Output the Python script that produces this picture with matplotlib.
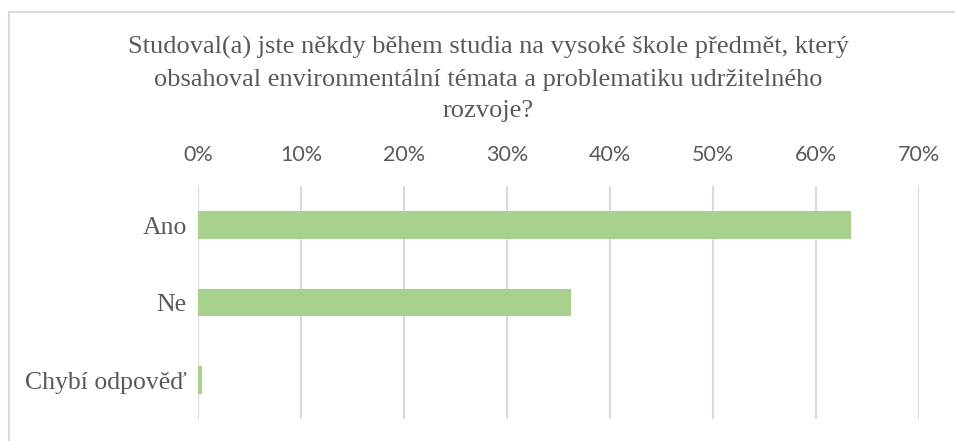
import matplotlib.pyplot as plt
from matplotlib.patches import Rectangle
from matplotlib.ticker import FuncFormatter

categories = ["Ano", "Ne", "Chybí odpověď"]
values = [63.4, 36.2, 0.4]
ticks = [0, 10, 20, 30, 40, 50, 60, 70]
title = ("Studoval(a) jste někdy během studia na vysoké škole předmět, který\n"
         "obsahoval environmentální témata a problematiku udržitelného\n"
         "rozvoje?")

grey = "#595959"

fig = plt.figure(figsize=(9.55, 4.41), dpi=100)
fig.patches.append(Rectangle((9 / 955, -0.1), 1.2, 1.1 - 12 / 441, transform=fig.transFigure,
                             fill=False, edgecolor="#D9D9D9", linewidth=1.5))

ax = fig.add_axes([198 / 955, 1 - 418.75 / 441, 721 / 955, 232.5 / 441])
ax.barh(categories, values, height=0.35, color="#A9D18E", zorder=3)
ax.set_xlim(0, 70)
ax.set_ylim(2.5, -0.5)
ax.set_xticks(ticks)
ax.xaxis.set_major_formatter(FuncFormatter(lambda v, p: f"{v:.0f}%"))
ax.xaxis.tick_top()
ax.tick_params(axis="x", length=0, pad=15, labelsize=15.5, labelcolor=grey)
ax.tick_params(axis="y", length=0, pad=8, labelsize=18.5, labelcolor=grey)
for lab in ax.get_xticklabels():
    lab.set_fontfamily("Lato")
for lab in ax.get_yticklabels():
    lab.set_fontfamily("Liberation Serif")
ax.grid(axis="x", color="#D9D9D9", linewidth=1.5, zorder=0)
for s in ax.spines.values():
    s.set_visible(False)

fig.text(488 / 955, 1 - 79 / 441, title, ha="center", va="center", fontsize=19,
         family="Liberation Serif", color=grey, linespacing=1.55)

fig.savefig("out.png", dpi=100)
